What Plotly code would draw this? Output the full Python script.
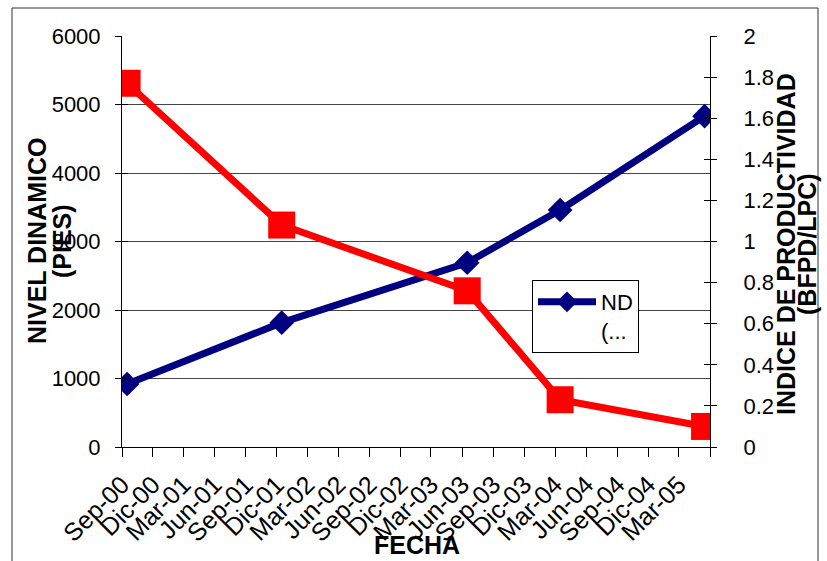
import plotly.graph_objects as go

# Measurement dates (mid-month) and the two monitored quantities
fechas = ["2000-09-16", "2001-12-16", "2003-06-16", "2004-03-16", "2005-05-16"]
nivel_dinamico = [920, 1815, 2690, 3460, 4830]        # pies
indice_productividad = [1.77, 1.08, 0.76, 0.23, 0.10]  # BFPD/LPC

# Quarterly tick marks on the date axis
tick_fechas = ["2000-09-01", "2000-12-01", "2001-03-01", "2001-06-01", "2001-09-01",
               "2001-12-01", "2002-03-01", "2002-06-01", "2002-09-01", "2002-12-01",
               "2003-03-01", "2003-06-01", "2003-09-01", "2003-12-01", "2004-03-01",
               "2004-06-01", "2004-09-01", "2004-12-01", "2005-03-01", "2005-06-01"]
tick_textos = ["Sep-00", "Dic-00", "Mar-01", "Jun-01", "Sep-01", "Dic-01", "Mar-02",
               "Jun-02", "Sep-02", "Dic-02", "Mar-03", "Jun-03", "Sep-03", "Dic-03",
               "Mar-04", "Jun-04", "Sep-04", "Dic-04", "Mar-05", ""]

FONT = "Liberation Sans, Arial, sans-serif"
AZUL = "#000080"
ROJO = "#FF0000"

W, H = 827, 561
L, R, T, B = 122, 117, 36, 114
PW, PH = W - L - R, H - T - B


def px_x(p):
    return (p - L) / PW


def px_y(p):
    return (H - B - p) / PH


fig = go.Figure()

fig.add_trace(go.Scatter(
    x=fechas, y=nivel_dinamico, name="ND<br>(...", yaxis="y",
    mode="lines+markers",
    line=dict(color=AZUL, width=7),
    marker=dict(symbol="diamond", size=19, color=AZUL),
))
fig.add_trace(go.Scatter(
    x=fechas, y=indice_productividad, name="IP", yaxis="y2",
    mode="lines+markers", showlegend=False,
    line=dict(color=ROJO, width=7),
    marker=dict(symbol="square", size=27, color=ROJO),
))
# empty traces that carry the inward half of the crossing ticks
fig.add_trace(go.Scatter(x=[], y=[], yaxis="y3", showlegend=False, hoverinfo="skip"))
fig.add_trace(go.Scatter(x=[], y=[], yaxis="y4", showlegend=False, hoverinfo="skip"))

ytick_font = dict(family=FONT, size=22, color="black")
xtick_font = dict(family=FONT, size=25, color="black")
title_font = dict(family=FONT, size=25, color="black")

fig.update_layout(
    width=W, height=H,
    margin=dict(l=L, r=R, t=T, b=B, pad=0),
    paper_bgcolor="white", plot_bgcolor="white",
    font=dict(family=FONT, color="black"),
    xaxis=dict(
        type="date", range=["2000-09-01", "2005-06-01"],
        tickmode="array", tickvals=tick_fechas, ticktext=tick_textos,
        tickangle=-45, tickfont=xtick_font,
        ticks="outside", ticklen=9, tickcolor="black", ticklabelstandoff=3,
        showline=True, linecolor="black", linewidth=1,
        showgrid=False, zeroline=False,
    ),
    yaxis=dict(
        range=[0, 6000], dtick=1000, tickformat="d", tickfont=ytick_font,
        ticks="outside", ticklen=6, tickcolor="black", ticklabelstandoff=10,
        showline=True, linecolor="black", linewidth=1,
        showgrid=True, gridcolor="#444444", gridwidth=1, zeroline=False,
    ),
    yaxis2=dict(
        range=[0, 2], dtick=0.2, tickfont=ytick_font, overlaying="y", side="right",
        ticks="outside", ticklen=6, tickcolor="black", ticklabelstandoff=22,
        showline=True, linecolor="black", linewidth=1,
        showgrid=False, zeroline=False,
    ),
    yaxis3=dict(
        range=[0, 6000], dtick=1000, overlaying="y", side="left",
        ticks="inside", ticklen=6, tickcolor="black", showticklabels=False,
        showline=False, showgrid=False, zeroline=False,
    ),
    yaxis4=dict(
        range=[0, 2], dtick=0.2, overlaying="y", side="right",
        ticks="inside", ticklen=6, tickcolor="black", showticklabels=False,
        showline=False, showgrid=False, zeroline=False,
    ),
    legend=dict(
        x=px_x(532), y=px_y(280), xanchor="left", yanchor="top",
        bgcolor="white", bordercolor="black", borderwidth=1,
        font=dict(family=FONT, size=22, color="black"), valign="top",
        itemwidth=58,
    ),
    showlegend=True,
)

fig.add_annotation(text="<b>FECHA</b>", x=px_x(417), y=px_y(545), xref="paper", yref="paper",
                   showarrow=False, font=title_font, xanchor="center", yanchor="middle")
fig.add_annotation(text="<b>NIVEL DINAMICO</b>", x=px_x(37), y=px_y(241), xref="paper", yref="paper",
                   showarrow=False, font=title_font, textangle=-90,
                   xanchor="center", yanchor="middle")
fig.add_annotation(text="<b>(PIES)</b>", x=px_x(62), y=px_y(241), xref="paper", yref="paper",
                   showarrow=False, font=title_font, textangle=-90,
                   xanchor="center", yanchor="middle")
fig.add_annotation(text="<b>INDICE DE PRODUCTIVIDAD</b>", x=px_x(786), y=px_y(244),
                   xref="paper", yref="paper", showarrow=False, font=title_font,
                   textangle=-90, xanchor="center", yanchor="middle")
fig.add_annotation(text="<b>(BFPD/LPC)</b>", x=px_x(807), y=px_y(244),
                   xref="paper", yref="paper", showarrow=False, font=title_font,
                   textangle=-90, xanchor="center", yanchor="middle")

# chart frame
fig.add_shape(type="rect", xref="paper", yref="paper",
              x0=px_x(12), x1=px_x(818), y0=px_y(575), y1=px_y(8),
              line=dict(color="#333333", width=1), fillcolor="rgba(0,0,0,0)", layer="below")

fig.write_html("out.html")
